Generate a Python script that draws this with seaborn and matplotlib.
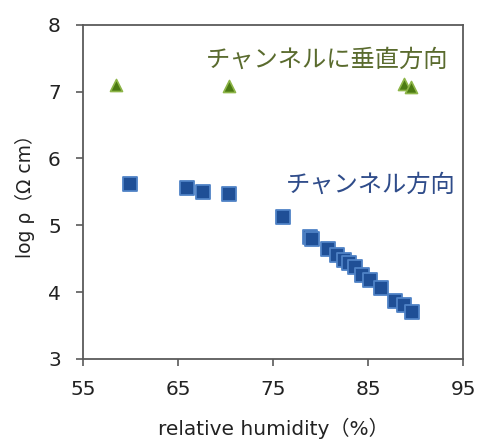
import matplotlib
matplotlib.use("Agg")
import matplotlib.pyplot as plt
import seaborn as sns
import pandas as pd

# Resistivity along the channel (squares)
rh_parallel = [59.9, 65.9, 67.6, 70.4, 76.0, 78.9, 79.1, 80.75, 81.7, 82.45,
               83.0, 83.6, 84.35, 85.2, 86.35, 87.8, 88.8, 89.65]
logrho_parallel = [5.62, 5.56, 5.50, 5.47, 5.13, 4.83, 4.80, 4.64, 4.56, 4.48,
                   4.43, 4.38, 4.26, 4.18, 4.06, 3.87, 3.80, 3.70]

# Resistivity perpendicular to the channel (triangles)
rh_perp = [58.45, 70.4, 88.8, 89.5]
logrho_perp = [7.10, 7.09, 7.11, 7.07]

x_ticks = [55, 65, 75, 85, 95]
y_ticks = [3, 4, 5, 6, 7, 8]

label_perp = "チャンネルに垂直方向"
label_par = "チャンネル方向"
xlabel = "relative humidity（%）"
ylabel = "log ρ（Ω cm）"

sns.set_style("white")
plt.rcParams["font.family"] = ["DejaVu Sans", "Noto Sans CJK JP"]

df_par = pd.DataFrame({"rh": rh_parallel, "logrho": logrho_parallel})
df_perp = pd.DataFrame({"rh": rh_perp, "logrho": logrho_perp})

fig = plt.figure(figsize=(4.80, 4.43), dpi=100)
ax = fig.add_axes([0.173, 0.19, 0.792, 0.754])

sns.scatterplot(data=df_par, x="rh", y="logrho", ax=ax, marker="s", s=105,
                color="#1f4f96", edgecolor="#4f82c6", linewidth=1.3, zorder=3)
sns.scatterplot(data=df_perp, x="rh", y="logrho", ax=ax, marker="^", s=75,
                color="#4b7a12", edgecolor="#8db548", linewidth=1.2, zorder=3)

ax.set_xlim(55, 95)
ax.set_ylim(3, 8)
ax.set_xticks(x_ticks)
ax.set_yticks(y_ticks)

for side in ["left", "bottom", "right", "top"]:
    ax.spines[side].set_color("#5a5a5a")
    ax.spines[side].set_linewidth(1.3)

ax.tick_params(axis="both", which="major", direction="out", length=5,
               width=1.2, color="#5a5a5a", labelsize=14.5, labelcolor="#222222",
               bottom=True, left=True, top=False, right=False)
ax.tick_params(axis="x", pad=10)
ax.tick_params(axis="y", pad=11)

ax.set_xlabel(xlabel, fontsize=14.5, color="#222222", labelpad=14)
ax.set_ylabel(ylabel, fontsize=13.5, color="#222222", labelpad=9)

ax.text(0.96, 0.895, label_perp, transform=ax.transAxes, fontsize=17.5,
        color="#5a6b2e", ha="right", va="center",
        family=["Noto Sans CJK JP", "DejaVu Sans"])
ax.text(0.979, 0.521, label_par, transform=ax.transAxes, fontsize=17.5,
        color="#2f4c8a", ha="right", va="center",
        family=["Noto Sans CJK JP", "DejaVu Sans"])

fig.savefig("out.png", dpi=100)
